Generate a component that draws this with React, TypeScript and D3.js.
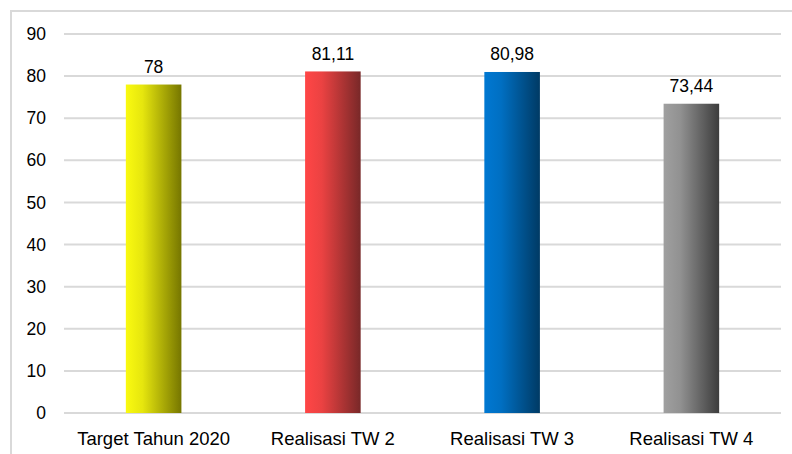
import React from "react";
import * as d3 from "d3";

const categories = ["Target Tahun 2020", "Realisasi TW 2", "Realisasi TW 3", "Realisasi TW 4"];
const values = [78, 81.11, 80.98, 73.44];
const valueLabels = ["78", "81,11", "80,98", "73,44"];
const yTicks = [0, 10, 20, 30, 40, 50, 60, 70, 80, 90];
const colorsLight = ["#fafa10", "#ff4646", "#0078d2", "#a0a0a0"];
const colorsDark = ["#767600", "#782828", "#003a64", "#3c3c3c"];

export default function App() {
  const W = 792, H = 454;
  const left = 64, right = 781, top = 34, bottom = 413;
  const x = d3.scaleBand<string>().domain(categories).range([left, right]).paddingInner(0.69).paddingOuter(0.345);
  const y = d3.scaleLinear().domain([0, 90]).range([bottom, top]);
  const font = "'Liberation Sans', Arial, sans-serif";
  return (
    <svg width={W} height={H} style={{ position: "absolute", left: 0, top: 0, background: "#fff" }}>
      <defs>
        {categories.map((c, i) => (
          <linearGradient key={c} id={`g${i}`} x1="0" x2="1" y1="0" y2="0">
            <stop offset="0" stopColor={colorsLight[i]} />
            <stop offset="0.3" stopColor={d3.interpolateRgb(colorsLight[i], colorsDark[i])(0.15)} />
            <stop offset="1" stopColor={colorsDark[i]} />
          </linearGradient>
        ))}
      </defs>
      <rect x={11} y={11} width={W} height={H} fill="#fff" stroke="#d9d9d9" strokeWidth={2} />
      {yTicks.map((t) => (
        <g key={t}>
          <line x1={left} x2={right} y1={y(t)} y2={y(t)} stroke="#d9d9d9" strokeWidth={2} />
          <text x={46} y={y(t)} dy="0.35em" textAnchor="end" fontFamily={font} fontSize={17.5} fill="#000">
            {t}
          </text>
        </g>
      ))}
      {categories.map((c, i) => {
        const bx = x(c)!;
        const bw = x.bandwidth();
        return (
          <g key={c}>
            <rect x={bx} y={y(values[i])} width={bw} height={bottom - y(values[i])} fill={`url(#g${i})`} />
            <text x={bx + bw / 2} y={y(values[i]) - 11.5} textAnchor="middle" fontFamily={font} fontSize={17.5} fill="#000">
              {valueLabels[i]}
            </text>
            <text x={bx + bw / 2} y={445} textAnchor="middle" fontFamily={font} fontSize={18.5} fill="#000">
              {c}
            </text>
          </g>
        );
      })}
    </svg>
  );
}
